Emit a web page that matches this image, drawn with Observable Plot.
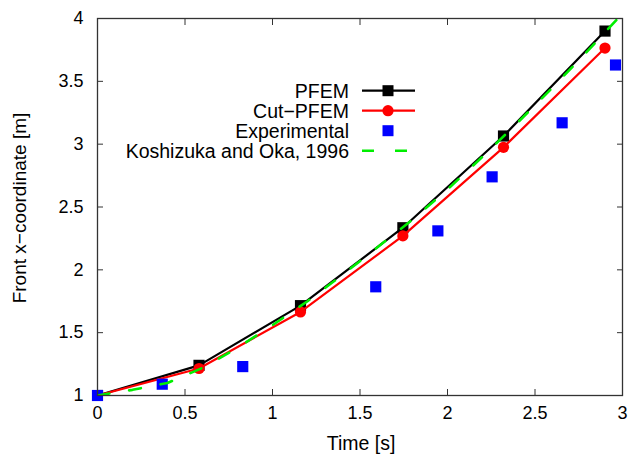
<!DOCTYPE html>
<html><head><meta charset="utf-8">
<script src="https://cdn.jsdelivr.net/npm/d3@7"></script>
<script src="https://cdn.jsdelivr.net/npm/@observablehq/plot@0.6"></script>
<style>body{margin:0;background:#fff}#chart svg{display:block}</style>
</head><body><div id="chart"></div>
<script>
const pfemT = [0, 0.58, 1.16, 1.745, 2.32, 2.9];
const pfemX = [1.0, 1.24, 1.715, 2.335, 3.065, 3.9];
const cutT = [0, 0.58, 1.16, 1.745, 2.32, 2.9];
const cutX = [1.0, 1.215, 1.665, 2.27, 2.975, 3.765];
const expT = [0, 0.37, 0.83, 1.59, 1.945, 2.255, 2.655, 2.96];
const expX = [1.0, 1.09, 1.23, 1.865, 2.31, 2.74, 3.17, 3.63];
const koshT = [0, 0.2, 0.4, 0.6, 0.8, 1.0, 1.2, 1.4, 1.6, 1.8, 2.0, 2.2, 2.4, 2.6, 2.8, 3.0];
const koshX = [1.0, 1.045, 1.10, 1.22, 1.38, 1.56, 1.75, 1.96, 2.18, 2.40, 2.64, 2.90, 3.17, 3.45, 3.74, 4.04];
const xTicks = [0, 0.5, 1, 1.5, 2, 2.5, 3];
const yTicks = [1, 1.5, 2, 2.5, 3, 3.5, 4];
const seriesNames = ["PFEM", "Cut\u2212PFEM", "Experimental", "Koshizuka and Oka, 1996"];
const xLabel = "Time [s]";
const yLabel = "Front x\u2212coordinate [m]";

const zip = (t, x) => t.map((v, i) => ({t: v, x: x[i]}));
const pfem = zip(pfemT, pfemX), cut = zip(cutT, cutX), exp = zip(expT, expX), kosh = zip(koshT, koshX);

const GREEN = "#00ee00", RED = "#ff0000", BLUE = "#0000ff";
const fmt = d => String(d);
const ff = "'Liberation Sans', Arial, sans-serif";

const chart = Plot.plot({
  width: 632, height: 459,
  marginLeft: 97, marginRight: 10, marginTop: 18, marginBottom: 64,
  style: {fontFamily: ff, fontSize: "18px", color: "#000", background: "#fff"},
  x: {domain: [0, 3]},
  y: {domain: [1, 4]},
  marks: [
    Plot.axisX({ticks: xTicks, tickFormat: fmt, tickSize: -6, tickPadding: 17, label: null, fontSize: 18, stroke: "#333"}),
    Plot.axisX({anchor: "top", ticks: xTicks, tickFormat: () => "", tickSize: -6, label: null, stroke: "#333"}),
    Plot.axisY({ticks: yTicks, tickFormat: fmt, tickSize: -6, tickPadding: 20, label: null, fontSize: 18, stroke: "#333"}),
    Plot.axisY({anchor: "right", ticks: yTicks, tickFormat: () => "", tickSize: -6, label: null, stroke: "#333"}),
    Plot.line(pfem, {x: "t", y: "x", stroke: "#000", strokeWidth: 2.2, clip: true}),
    Plot.dot(pfem, {x: "t", y: "x", symbol: "square", r: 6.3, fill: "#000", clip: true}),
    Plot.line(cut, {x: "t", y: "x", stroke: RED, strokeWidth: 2.2, clip: true}),
    Plot.dot(cut, {x: "t", y: "x", symbol: "circle", r: 5.6, fill: RED, clip: true}),
    Plot.dot(exp, {x: "t", y: "x", symbol: "square", r: 6.3, fill: BLUE}),
    Plot.line(kosh, {x: "t", y: "x", stroke: GREEN, strokeWidth: 2.6, strokeDasharray: "12,20", clip: true}),
    Plot.frame({stroke: "#333", strokeWidth: 1.3})
  ]
});
document.getElementById("chart").appendChild(chart);

const svg = d3.select(chart);
svg.append("text").attr("x", 361).attr("y", 450).attr("text-anchor", "middle")
  .attr("font-family", ff).attr("font-size", 19.5).attr("fill", "#000").text(xLabel);
svg.append("text").attr("transform", "translate(19,208) rotate(-90)").attr("dy", "0.35em").attr("text-anchor", "middle")
  .attr("font-family", ff).attr("font-size", 19).attr("fill", "#000").text(yLabel);

// legend
const lg = svg.append("g").attr("font-family", ff).attr("font-size", 19.5);
const styles = [
  {stroke: "#000", marker: "square", fill: "#000"},
  {stroke: RED, marker: "circle", fill: RED},
  {stroke: null, marker: "square", fill: BLUE},
  {stroke: GREEN, dash: true}
];
seriesNames.forEach((name, i) => {
  const y = 90.7 + i * 20;
  lg.append("text").attr("x", 349).attr("y", y).attr("dy", "0.35em").attr("text-anchor", "end").attr("fill", "#000").text(name);
  const s = styles[i];
  if (s.stroke) {
    const l = lg.append("line").attr("x1", 362).attr("x2", 415).attr("y1", y).attr("y2", y)
      .attr("stroke", s.stroke).attr("stroke-width", s.dash ? 2.6 : 2.2);
    if (s.dash) l.attr("stroke-dasharray", "12,21");
  }
  if (s.marker === "square") lg.append("rect").attr("x", 388 - 5.5).attr("y", y - 5.5).attr("width", 11).attr("height", 11).attr("fill", s.fill);
  if (s.marker === "circle") lg.append("circle").attr("cx", 388).attr("cy", y).attr("r", 5.6).attr("fill", s.fill);
});
</script>
</body></html>
